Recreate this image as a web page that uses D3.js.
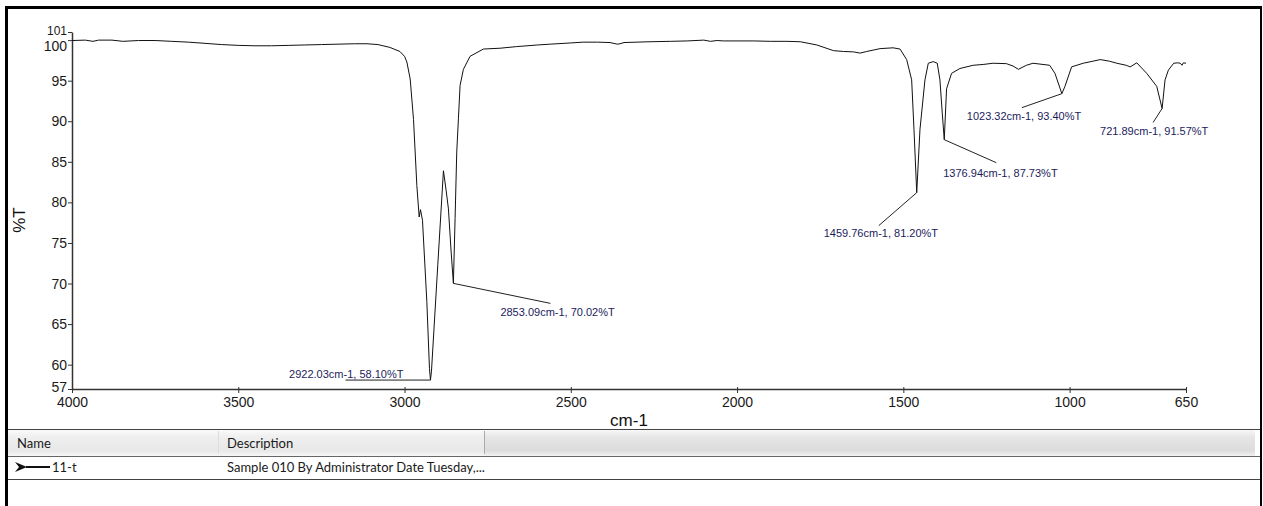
<!DOCTYPE html>
<html>
<head>
<meta charset="utf-8">
<script src="https://cdn.jsdelivr.net/npm/d3@7"></script>
<style>
  html, body { margin: 0; padding: 0; background: #fff; }
  svg { display: block; }
</style>
</head>
<body>
<svg id="chart" width="1263" height="506"></svg>
<script>
// ---------- data ----------
const wavenumbers = [4000,3960,3937,3920,3880,3847,3800,3750,3700,3650,3600,3550,3500,3450,3400,3350,3300,3250,3200,3150,3113,3080,3044,3014,3000,2993,2983,2973,2963,2956,2952,2946,2933,2925,2922.03,2919,2900,2883,2875,2868,2860,2853.09,2848,2843,2838,2833,2823,2803,2763,2713,2663,2600,2562,2500,2463,2420,2382,2360,2352,2340,2262,2200,2150,2100,2080,2060,2040,2000,1950,1900,1850,1810,1760,1710,1680,1650,1630,1610,1570,1531,1510,1490,1475,1468,1459.76,1450,1435,1425,1410,1398,1390,1383,1376.94,1370,1355,1330,1290,1260,1230,1190,1170,1154,1130,1110,1080,1060,1044,1023.32,1014,994,959,930,908,880,858,830,818,798,768,738,721.89,713,703,687,675,667,662,658,650];
const transmittance = [99.95,100.0,99.85,100.0,100.0,99.85,99.95,99.95,99.85,99.75,99.6,99.45,99.35,99.3,99.3,99.35,99.4,99.45,99.5,99.55,99.55,99.45,99.1,98.6,98.0,97.3,95.2,90.2,82.1,78.2,79.1,77.8,67.8,59.5,58.10,59.2,72.3,83.9,81.5,79.2,74.0,70.02,78.0,86.2,90.3,94.4,96.4,98.0,98.9,99.0,99.2,99.4,99.5,99.65,99.75,99.75,99.7,99.5,99.55,99.7,99.8,99.85,99.9,100.0,99.85,99.95,99.9,99.9,99.9,99.85,99.85,99.8,99.4,98.7,98.6,98.55,98.4,98.6,98.95,99.05,98.9,97.6,95.1,89.0,81.20,89.0,95.1,97.15,97.35,97.15,95.1,91.0,87.73,94.0,95.9,96.5,96.9,97.0,97.15,97.1,96.8,96.4,96.9,97.15,97.0,96.9,95.9,93.40,94.3,96.7,97.15,97.4,97.6,97.4,97.15,96.9,96.7,97.2,95.9,94.3,91.57,95.1,96.3,97.15,97.2,97.15,96.9,97.2,97.15];

const peakWavenumbers = [2922.03, 2853.09, 1459.76, 1376.94, 1023.32, 721.89];
const peakValues = [58.10, 70.02, 81.20, 87.73, 93.40, 91.57];
const peakLabels = ["2922.03cm-1, 58.10%T", "2853.09cm-1, 70.02%T", "1459.76cm-1, 81.20%T",
                    "1376.94cm-1, 87.73%T", "1023.32cm-1, 93.40%T", "721.89cm-1, 91.57%T"];

const xTicks = [4000, 3500, 3000, 2500, 2000, 1500, 1000, 650];
const yTicks = [101, 100, 95, 90, 85, 80, 75, 70, 65, 60, 57];
const xDomain = [4000, 650];
const yDomain = [57, 101];

const xTitle = "cm-1";
const yTitle = "%T";
const tableHeaders = ["Name", "Description"];
const seriesNames = ["11-t"];
const seriesDescriptions = ["Sample 010 By Administrator Date Tuesday,..."];

// ---------- layout (styles / offsets) ----------
// leader end offset and text offset relative to the peak point
const leaderOffsets = [[-85, 0], [97, 20], [-38, 33], [52, 23], [-40, 14], [-9, 14]];
const textOffsets = [[-27, -2, "end"], [47, 33, "start"], [-93, 44, "start"], [-1, 37, "start"], [-95, 26, "start"], [-62, 26, "start"]];

const svg = d3.select("#chart");
const W = 1263, H = 506;
const plot = { left: 72, right: 1186, top: 32, bottom: 389 };
const FONT = "Arial, 'Liberation Sans', sans-serif";
const UI_FONT = "Lato, 'Open Sans', sans-serif";

svg.append("rect").attr("x", 0).attr("y", 0).attr("width", W).attr("height", H).attr("fill", "#fff");

const x = d3.scaleLinear().domain(xDomain).range([plot.left, plot.right]);
const y = d3.scaleLinear().domain(yDomain).range([plot.bottom, plot.top]);

// ---------- axes ----------
const xAxis = svg.append("g")
  .attr("transform", `translate(0,${plot.bottom})`)
  .call(d3.axisBottom(x).tickValues(xTicks).tickFormat(d3.format("d")).tickSizeInner(4).tickSizeOuter(0).tickPadding(4));
xAxis.select(".domain").attr("stroke", "#333").attr("stroke-width", 1.5);
xAxis.selectAll(".tick line").attr("stroke", "#333").attr("y1", -2);
xAxis.selectAll(".tick text").attr("font-family", FONT).attr("font-size", 14).attr("fill", "#1a1a1a");

const yAxis = svg.append("g")
  .attr("transform", `translate(${plot.left},0)`)
  .call(d3.axisLeft(y).tickValues(yTicks).tickFormat(d3.format("d")).tickSizeInner(4).tickSizeOuter(0).tickPadding(1));
yAxis.select(".domain").attr("stroke", "#333").attr("stroke-width", 1.5);
yAxis.selectAll(".tick line").attr("stroke", "#333");
yAxis.selectAll(".tick text").attr("font-family", FONT).attr("font-size", 14).attr("fill", "#1a1a1a");
yAxis.selectAll(".tick text").filter(d => d === 101).attr("font-size", 12).attr("y", -1);
yAxis.selectAll(".tick text").filter(d => d === 100).attr("y", 6);
yAxis.selectAll(".tick text").filter(d => d === 57).attr("y", -2);

svg.append("text")
  .attr("x", (plot.left + plot.right) / 2).attr("y", 426)
  .attr("text-anchor", "middle")
  .attr("font-family", FONT).attr("font-size", 17).attr("fill", "#111")
  .text(xTitle);

svg.append("text")
  .attr("transform", `translate(25,220) rotate(-90)`)
  .attr("text-anchor", "middle")
  .attr("font-family", FONT).attr("font-size", 17).attr("fill", "#111")
  .text(yTitle);

// ---------- spectrum ----------
const pts = wavenumbers.map((w, i) => [w, transmittance[i]]);
svg.append("path")
  .datum(pts)
  .attr("fill", "none")
  .attr("stroke", "#111")
  .attr("stroke-width", 1)
  .attr("d", d3.line().x(d => x(d[0])).y(d => y(d[1])));

// ---------- peak annotations ----------
peakWavenumbers.forEach((w, i) => {
  const px = x(w), py = y(peakValues[i]);
  const [lx, ly] = leaderOffsets[i];
  const [tx, ty, anchor] = textOffsets[i];
  svg.append("line")
    .attr("x1", px).attr("y1", py).attr("x2", px + lx).attr("y2", py + ly)
    .attr("stroke", "#222").attr("stroke-width", 1);
  svg.append("text")
    .attr("x", px + tx).attr("y", py + ty)
    .attr("text-anchor", anchor)
    .attr("font-family", FONT).attr("font-size", 11).attr("fill", "#1c1c5c")
    .text(peakLabels[i]);
});

// ---------- legend table ----------
const defs = svg.append("defs");
const grad = defs.append("linearGradient").attr("id", "hdr").attr("x1", 0).attr("y1", 0).attr("x2", 0).attr("y2", 1);
grad.append("stop").attr("offset", "0%").attr("stop-color", "#fafafa");
grad.append("stop").attr("offset", "30%").attr("stop-color", "#e6e6e6");
grad.append("stop").attr("offset", "80%").attr("stop-color", "#dcdcdc");
grad.append("stop").attr("offset", "100%").attr("stop-color", "#f2f2f2");

const tbl = { top: 429, header: 456, row: 479, left: 7, right: 1260, col2: 218, col3: 484 };
svg.append("rect").attr("x", tbl.left).attr("y", tbl.top).attr("width", tbl.right - tbl.left - 5)
  .attr("height", tbl.header - tbl.top).attr("fill", "url(#hdr)");
svg.append("rect").attr("x", tbl.left).attr("y", tbl.top).attr("width", tbl.col3 - tbl.left)
  .attr("height", tbl.header - tbl.top).attr("fill", "#fff").attr("opacity", 0.35);
[tbl.top, tbl.header, tbl.row].forEach((yy, i) => {
  svg.append("line").attr("x1", tbl.left).attr("x2", tbl.right).attr("y1", yy + 0.5).attr("y2", yy + 0.5)
    .attr("stroke", i === 1 ? "#666" : "#444").attr("stroke-width", 1.2);
});
svg.append("line").attr("x1", tbl.col2 + 0.5).attr("x2", tbl.col2 + 0.5).attr("y1", tbl.top + 2).attr("y2", tbl.header - 2)
  .attr("stroke", "#ddd");
svg.append("line").attr("x1", tbl.col3 + 0.5).attr("x2", tbl.col3 + 0.5).attr("y1", tbl.top + 2).attr("y2", tbl.header - 2)
  .attr("stroke", "#aaa");

svg.append("text").attr("x", 17).attr("y", 448).attr("font-family", UI_FONT).attr("font-size", 13).attr("fill", "#1a1a1a").text(tableHeaders[0]);
svg.append("text").attr("x", 227).attr("y", 448).attr("font-family", UI_FONT).attr("font-size", 13).attr("fill", "#1a1a1a").text(tableHeaders[1]);

// row
svg.append("path").attr("d", "M15,462 L27,467 L15,472 L19,467 Z").attr("fill", "#111");
svg.append("line").attr("x1", 26).attr("x2", 50).attr("y1", 467).attr("y2", 467).attr("stroke", "#111").attr("stroke-width", 2);
svg.append("text").attr("x", 52).attr("y", 472).attr("font-family", UI_FONT).attr("font-size", 13).attr("fill", "#1a1a1a").text(seriesNames[0]);
svg.append("text").attr("x", 227).attr("y", 472).attr("font-family", UI_FONT).attr("font-size", 13).attr("fill", "#1a1a1a").text(seriesDescriptions[0]);

// ---------- outer frame ----------
svg.append("line").attr("x1", 6.5).attr("x2", 6.5).attr("y1", 6).attr("y2", H).attr("stroke", "#000").attr("stroke-width", 3);
svg.append("line").attr("x1", 5).attr("x2", 1262).attr("y1", 7.5).attr("y2", 7.5).attr("stroke", "#000").attr("stroke-width", 3);
svg.append("line").attr("x1", 1261).attr("x2", 1261).attr("y1", 6).attr("y2", H).attr("stroke", "#000").attr("stroke-width", 2);
</script>
</body>
</html>
